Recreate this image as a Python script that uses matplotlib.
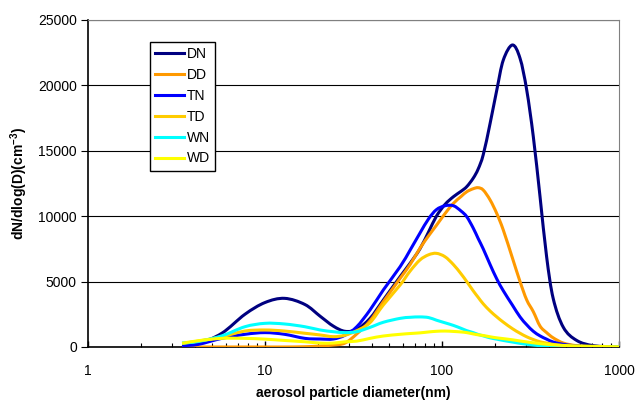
import matplotlib
matplotlib.use("Agg")
import matplotlib.pyplot as plt
import numpy as np
from matplotlib.path import Path
from matplotlib.patches import PathPatch
from matplotlib.lines import Line2D
from matplotlib.ticker import FixedLocator, FixedFormatter, LogLocator, NullFormatter

plt.rcParams['font.family'] = ['Liberation Sans', 'DejaVu Sans']
plt.rcParams['mathtext.fontset'] = 'custom'
plt.rcParams['mathtext.rm'] = 'Liberation Sans:bold'
plt.rcParams['mathtext.default'] = 'rm'

# particle diameter (nm)
diameter = [3.4, 4.2, 5.7, 7.7, 10, 12.9, 16.8, 20.5, 24.3, 28.3, 33, 39.2, 46.6,
            58, 66, 75, 84, 93, 104, 116, 128, 138, 150, 160, 171, 187, 204, 222,
            250, 276, 301, 328, 358, 390, 425, 485, 577, 720, 1000]

dn = [30, 250, 1050, 2500, 3400, 3720, 3250, 2350, 1600, 1200, 1350, 2190, 3590,
      5380, 6400, 7500, 8800, 10000, 10900, 11490, 11900, 12260, 12900, 13600, 14700, 17100, 19650, 21940,
      23090, 22070, 19650, 16080, 11490, 6900, 3700, 1500, 500, 100, 0]
dd = [0, 0, 0, 0, 0, 0, 20, 75, 150, 300, 1000, 2000, 3460,
      5250, 6300, 7540, 8500, 9300, 10200, 10980, 11500, 11870, 12100, 12180, 12000, 11240, 10200, 8940,
      6800, 5000, 3600, 2700, 1600, 1100, 700, 300, 100, 20, 0]
tn = [100, 200, 660, 970, 1100, 970, 660, 610, 610, 900, 1550, 2830, 4360,
      6140, 7400, 8700, 9800, 10500, 10800, 10800, 10400, 9960, 9100, 8300, 7500, 6300, 5200, 4300,
      3200, 2300, 1700, 1200, 850, 600, 380, 200, 80, 20, 0]
td = [280, 450, 790, 1220, 1300, 1220, 1050, 920, 790, 900, 1250, 1860, 3210,
      4740, 5800, 6650, 7050, 7160, 6900, 6300, 5600, 5000, 4300, 3800, 3300, 2750, 2300, 1900,
      1400, 1050, 780, 570, 400, 300, 200, 100, 40, 10, 0]
wn = [300, 420, 850, 1550, 1810, 1760, 1550, 1300, 1170, 1100, 1170, 1500, 1890,
      2190, 2270, 2300, 2250, 2050, 1850, 1650, 1430, 1250, 1100, 960, 850, 700, 600, 500,
      380, 280, 210, 150, 100, 70, 50, 30, 10, 0, 0]
wd = [280, 480, 660, 660, 600, 500, 400, 300, 300, 400, 450, 660, 840,
      970, 1030, 1080, 1150, 1200, 1220, 1190, 1150, 1100, 1000, 930, 880, 780, 700, 640,
      550, 460, 390, 320, 260, 210, 170, 120, 80, 50, 10]

labels = ['DN', 'DD', 'TN', 'TD', 'WN', 'WD']
colors = ['#000080', '#FF9900', '#0000FF', '#FFCC00', '#00FFFF', '#FFFF00']
series = [dn, dd, tn, td, wn, wd]


def smooth_path(xs, ys):
    # Excel-like "smoothed line": cubic bezier through the points (log x space)
    lx = np.log10(xs)
    y = np.asarray(ys, float)
    p = np.column_stack([lx, y])
    verts = [p[0]]
    codes = [Path.MOVETO]
    n = len(p)
    for i in range(n - 1):
        p0 = p[i - 1] if i > 0 else p[i]
        p3 = p[i + 2] if i + 2 < n else p[i + 1]
        c1 = p[i] + (p[i + 1] - p0) / 6
        c2 = p[i + 1] - (p3 - p[i]) / 6
        verts += [c1, c2, p[i + 1]]
        codes += [Path.CURVE4] * 3
    verts = np.array(verts)
    verts[:, 0] = 10 ** verts[:, 0]
    return Path(verts, codes)


fig = plt.figure(figsize=(6.36, 4.01), dpi=100)
ax = fig.add_axes([88/636, 1-347/401, (619-88)/636, (347-20)/401])

handles = []
for vals, lab, col in zip(series, labels, colors):
    patch = PathPatch(smooth_path(diameter, vals), facecolor='none', edgecolor=col,
                      lw=2.2, joinstyle='round', capstyle='butt', zorder=3)
    ax.add_patch(patch)
    handles.append(Line2D([], [], color=col, lw=2.2))

ax.set_xscale('log')
ax.set_xlim(1, 1000)
ax.set_ylim(0, 25000)
ax.xaxis.set_major_locator(FixedLocator([1, 10, 100, 1000]))
ax.xaxis.set_major_formatter(FixedFormatter(['1', '10', '100', '1000']))
ax.xaxis.set_minor_locator(LogLocator(base=10, subs=range(2, 10)))
ax.xaxis.set_minor_formatter(NullFormatter())
ax.set_yticks(range(0, 25001, 5000))

ax.yaxis.grid(True, color='black', lw=0.8)
ax.set_axisbelow(True)
ax.tick_params(axis='x', which='major', direction='in', length=4, pad=12, labelsize=10, width=1)
ax.tick_params(axis='x', which='minor', direction='in', length=3, width=0.8)
ax.tick_params(axis='y', direction='out', length=5, pad=3, labelsize=10)

for s in ['top', 'right']:
    ax.spines[s].set_color('#808080')
for s in ['left', 'bottom']:
    ax.spines[s].set_color('black')
    ax.spines[s].set_linewidth(1.2)

ax.set_xlabel('aerosol particle diameter(nm)', fontsize=10, fontweight='bold', labelpad=6)
ax.set_ylabel(r'dN/dlog(D)(cm$^{-3}$)', fontsize=10, fontweight='bold', labelpad=5.5)

leg = ax.legend(handles, labels, loc='upper left', bbox_to_anchor=(62/531, (347-41.5)/327),
                borderaxespad=0, fontsize=10, handlelength=2.1, handletextpad=0.15,
                labelspacing=0.5, borderpad=0.38, fancybox=False, framealpha=1)
leg.get_frame().set_edgecolor('black')
leg.get_frame().set_linewidth(1)

fig.savefig('out.png', dpi=100)
